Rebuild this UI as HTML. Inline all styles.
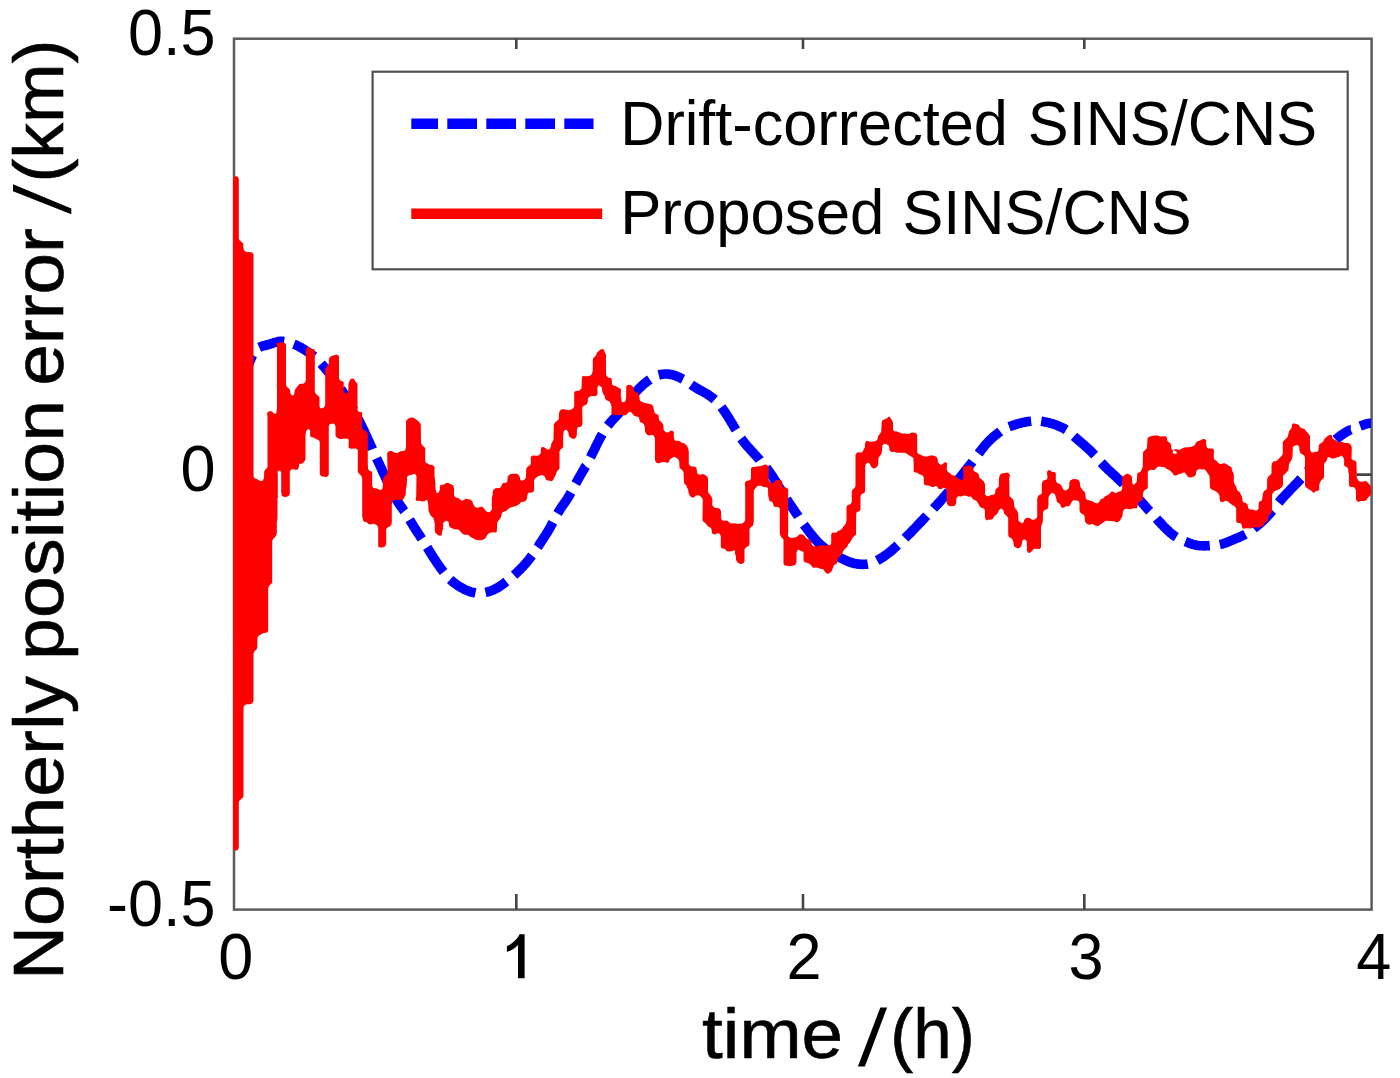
<!DOCTYPE html>
<html><head><meta charset="utf-8"><title>Northerly position error</title>
<style>
html,body{margin:0;padding:0;background:#fff;}
body{width:1400px;height:1078px;overflow:hidden;}
svg{display:block;filter:blur(0.45px);}
text{font-family:"Liberation Sans",sans-serif;fill:#000;}
</style></head><body>
<svg width="1400" height="1078" viewBox="0 0 1400 1078">
<rect width="1400" height="1078" fill="#fff"/>
<!-- axes frame -->
<rect x="234.0" y="38.7" width="1137.6" height="870.9" fill="none" stroke="#5c5c5c" stroke-width="2.5"/>
<path d="M516.3 909.6V894.0M516.3 38.7V49.1M803.0 909.6V894.0M803.0 38.7V49.1M1084.3 909.6V894.0M1084.3 38.7V49.1M234.0 474.6H249.0M1371.6 474.6H1356.5" fill="none" stroke="#444444" stroke-width="2.6"/>
<!-- blue dashed: Drift-corrected SINS/CNS -->
<path d="M247.0 370.0L247.6 368.0L248.2 366.1L248.8 364.2L249.5 362.4L250.2 360.5L251.0 358.7L251.8 356.8L252.7 355.1L252.8 355.0M259.2 347.4L261.0 346.6L262.9 345.9L264.8 345.5L266.8 345.0L268.7 344.5L270.6 343.9L272.5 343.3L274.4 342.6L276.3 342.1L278.3 341.6L280.2 341.3L282.2 341.3L284.1 341.6M293.8 344.2L295.6 344.9L297.4 345.8L299.2 346.7L301.0 347.6L302.7 348.7L304.4 349.7L306.1 350.8L307.8 351.8L309.4 352.9L311.1 354.1L312.7 355.3L314.2 356.5M321.2 363.6L322.5 365.1L323.8 366.7L325.1 368.2L326.3 369.7L327.6 371.3L328.9 372.9L330.1 374.4L331.3 376.0L332.6 377.6L333.8 379.2L335.0 380.8L335.0 380.8M340.9 389.0L342.0 390.6L343.1 392.3L344.2 394.0L345.3 395.6L346.4 397.3L347.4 399.0L348.4 400.7L349.5 402.5L350.5 404.2L351.4 405.9L352.4 407.7L353.4 409.4L353.7 410.0M358.2 418.9L359.1 420.7L360.0 422.5L360.9 424.3L361.8 426.1L362.6 427.9L363.5 429.7L364.4 431.5L365.2 433.3L366.1 435.2L366.9 437.0L367.7 438.8L368.6 440.6L369.4 442.4L370.2 444.3L371.0 446.1L371.9 447.9L372.4 449.2M376.6 458.3L377.4 460.1L378.3 461.9L379.1 463.7L380.0 465.5L380.8 467.3L381.7 469.2L382.5 471.0L383.3 472.8L384.2 474.6L385.0 476.4L385.8 478.3L386.6 480.1L387.4 481.9L387.9 483.1M392.2 492.1L393.1 493.9L394.1 495.7L395.1 497.4L396.1 499.1L397.2 500.8L398.2 502.5L399.4 504.1L400.5 505.8L401.7 507.4L402.8 509.0L403.9 510.7L404.3 511.2M409.6 519.7L410.6 521.4L411.7 523.1L412.7 524.8L413.7 526.5L414.8 528.2L415.9 529.9L417.0 531.6L418.1 533.3L419.2 534.9L420.3 536.6L421.4 538.3L421.8 538.9M427.1 547.4L428.2 549.1L429.2 550.8L430.3 552.5L431.3 554.2L432.4 555.9L433.5 557.6L434.6 559.2L435.7 560.9L436.8 562.6L437.9 564.2L439.1 565.8L440.2 567.5L441.4 569.1L442.6 570.7L443.6 572.0M450.2 579.4L451.7 580.8L453.2 582.1L454.8 583.3L456.4 584.5L458.0 585.7L459.7 586.7L461.5 587.7L463.2 588.7L465.0 589.6L466.8 590.4L468.7 591.2L470.6 591.8L472.5 592.3L474.5 592.7L475.5 592.9M485.5 592.4L487.4 592.0L489.3 591.4L491.2 590.7L493.1 590.0L494.9 589.2L496.6 588.2L498.4 587.2L500.1 586.1L501.7 585.0L503.3 583.8L504.9 582.6L506.3 581.5M514.0 575.1L515.5 573.8L517.0 572.4L518.4 571.1L519.9 569.7L521.3 568.2L522.7 566.8L524.0 565.3L525.4 563.8L526.7 562.3L527.9 560.8L529.2 559.2L530.4 557.6L531.6 556.0L532.0 555.5M537.6 547.2L538.7 545.6L539.8 543.9L540.9 542.2L542.0 540.6L543.1 538.9L544.2 537.2L545.3 535.5L546.3 533.9L547.4 532.2L548.4 530.4L549.4 528.7L550.4 527.0L551.3 525.2L552.3 523.4L552.9 522.3M557.6 513.5L558.6 511.8L559.7 510.1L560.7 508.4L561.8 506.8L563.0 505.1L564.1 503.5L565.3 501.8L566.4 500.2L567.5 498.5L568.5 496.8L569.6 495.1L570.5 493.3L571.0 492.4M575.7 483.6L576.7 481.9L577.6 480.1L578.6 478.4L579.6 476.6L580.6 474.9L581.6 473.2L582.6 471.4L583.6 469.7L584.6 468.0L585.6 466.3L585.8 466.1M590.5 457.3L591.4 455.5L592.3 453.7L593.2 451.9L594.1 450.1L595.0 448.3L595.8 446.5L596.7 444.7L597.6 442.9L598.5 441.2L599.4 439.4L600.3 437.6L601.3 435.8L602.3 434.1L602.3 434.1M607.8 425.7L609.0 424.2L610.3 422.6L611.6 421.1L613.0 419.7L614.3 418.2L615.7 416.7L617.0 415.3L618.4 413.8L619.7 412.2L620.9 410.7L622.2 409.1L623.4 407.5L624.0 406.7M630.0 398.8L631.3 397.2L632.5 395.7L633.8 394.1L635.2 392.6L636.5 391.2L637.9 389.7L639.3 388.3L640.8 386.9L642.2 385.6L643.7 384.2L645.3 383.0L646.8 381.7L648.4 380.5L649.8 379.5M658.7 375.0L660.7 374.5L662.7 374.2L664.6 374.0L666.6 374.0L668.6 374.1L670.6 374.4L672.6 374.8L674.5 375.4L676.4 376.1L678.2 376.9L680.0 377.7L681.8 378.6L683.0 379.2M691.3 384.7L693.0 385.9L694.6 386.9L696.3 388.0L698.1 389.0L699.8 390.0L701.6 390.9L703.3 391.9L705.0 392.9L706.8 393.9L708.5 395.0L710.1 396.1L711.8 397.3L713.3 398.5L714.7 399.7M721.4 407.1L722.6 408.7L723.7 410.3L724.9 411.9L726.0 413.6L727.0 415.3L728.1 417.0L729.2 418.7L730.2 420.4L731.2 422.1L732.3 423.8L733.3 425.5L734.3 427.3L735.3 429.0L735.9 430.0M741.2 438.5L742.4 440.1L743.6 441.7L744.8 443.3L746.1 444.9L747.4 446.4L748.7 447.8L750.1 449.3L751.4 450.8L752.8 452.3L754.1 453.7L755.5 455.2L756.8 456.7L758.2 458.2L759.5 459.7L759.7 460.0M766.2 467.6L767.4 469.2L768.6 470.8L769.8 472.4L770.9 474.0L772.1 475.7L773.1 477.4L774.2 479.1L775.3 480.8L776.3 482.5L777.3 484.2L778.4 485.9L779.4 487.6L780.4 489.3L781.3 490.8M786.7 499.2L787.8 500.9L788.9 502.6L790.0 504.2L791.2 505.9L792.3 507.6L793.4 509.2L794.5 510.9L795.6 512.5L796.8 514.2L797.9 515.8L798.3 516.5M803.9 524.7L805.1 526.3L806.3 527.9L807.5 529.6L808.7 531.2L809.9 532.7L811.1 534.3L812.4 535.9L813.6 537.4L814.9 538.9L816.3 540.4L817.6 541.9L819.0 543.3L820.5 544.7L822.0 546.0L823.6 547.3L825.1 548.5L826.8 549.7L827.8 550.4M836.3 555.6L838.1 556.6L839.9 557.5L841.6 558.4L843.4 559.3L845.2 560.2L847.1 561.0L848.9 561.7L850.8 562.4L852.7 563.0L854.6 563.5L856.6 563.9L858.6 564.1L860.6 564.3L862.6 564.4L864.6 564.3L866.6 564.2L867.8 564.0M877.1 560.5L878.9 559.5L880.6 558.5L882.3 557.5L884.0 556.4L885.6 555.2L887.2 554.0L888.8 552.8L890.4 551.6L891.9 550.3L893.4 549.0L894.9 547.6L896.4 546.3L897.7 545.1M904.9 538.2L906.3 536.8L907.7 535.4L909.2 534.0L910.6 532.6L912.0 531.1L913.4 529.7L914.8 528.3L916.1 526.8L917.5 525.4L918.9 523.9L920.3 522.5L921.6 521.0L923.0 519.6L924.4 518.1L925.8 516.7L926.7 515.7M933.5 508.5L934.9 507.0L936.3 505.6L937.6 504.1L939.0 502.6L940.4 501.2L941.7 499.7L943.0 498.2L944.3 496.7L945.6 495.2L946.9 493.7L948.2 492.1L948.8 491.4M955.1 483.6L956.4 482.0L957.6 480.5L958.9 478.9L960.1 477.3L961.4 475.8L962.6 474.2L963.8 472.7L965.1 471.1L966.3 469.5L967.6 467.9L968.8 466.4L970.0 464.8L971.3 463.2L972.5 461.6L972.5 461.6M978.6 453.6L979.8 452.0L981.0 450.4L982.2 448.8L983.5 447.3L984.7 445.7L986.0 444.2L987.4 442.7L988.7 441.3L990.2 439.8L991.6 438.5L993.1 437.1L994.6 435.8L996.2 434.6L997.8 433.4L999.4 432.2L1000.3 431.5M1009.1 426.8L1011.0 426.1L1012.9 425.4L1014.8 424.8L1016.7 424.2L1018.6 423.6L1020.5 423.1L1022.5 422.6L1024.4 422.2L1026.4 421.8L1028.4 421.5L1030.3 421.3L1031.2 421.2M1041.2 421.3L1043.2 421.6L1045.1 422.0L1047.1 422.4L1049.0 422.8L1051.0 423.4L1052.9 423.9L1054.8 424.6L1056.7 425.3L1058.5 426.0L1060.4 426.8L1062.2 427.6L1064.0 428.5L1065.7 429.6L1066.2 429.9M1073.9 436.3L1075.4 437.6L1076.9 438.9L1078.4 440.2L1080.0 441.5L1081.5 442.8L1083.0 444.1L1084.5 445.4L1086.0 446.8L1087.5 448.1L1089.0 449.5L1090.4 450.8L1091.9 452.2L1093.3 453.7L1094.6 455.1L1094.7 455.2M1101.3 462.6L1102.7 464.1L1104.1 465.6L1105.5 467.0L1106.9 468.4L1108.3 469.8L1109.8 471.1L1111.3 472.5L1112.7 473.9L1114.2 475.2L1115.7 476.6L1117.1 477.9L1118.6 479.3L1120.0 480.7L1121.5 482.1L1122.9 483.4L1123.4 483.9M1130.6 490.9L1132.0 492.3L1133.4 493.7L1134.8 495.1L1136.2 496.5L1137.6 498.0L1139.0 499.4L1140.4 500.8L1141.8 502.3L1143.1 503.8L1144.5 505.3L1145.8 506.8L1147.1 508.3L1148.4 509.8L1149.8 511.2M1156.5 518.6L1157.8 520.1L1159.2 521.6L1160.6 523.0L1161.9 524.5L1163.3 525.9L1164.7 527.4L1166.1 528.8L1167.5 530.2L1169.0 531.5L1170.5 532.9L1172.0 534.1L1173.6 535.3L1175.3 536.5L1176.3 537.1M1185.3 541.5L1187.1 542.2L1189.0 543.0L1190.8 543.7L1192.7 544.3L1194.7 544.8L1196.6 545.2L1198.6 545.5L1200.6 545.7L1202.6 545.8L1204.6 545.9L1206.6 545.8L1208.6 545.7L1209.8 545.6M1219.8 544.5L1221.7 544.1L1223.6 543.5L1225.5 542.9L1227.4 542.2L1229.2 541.4L1231.1 540.6L1232.9 539.8L1234.8 539.0L1236.6 538.3L1238.5 537.5L1240.3 536.7L1242.1 535.9L1243.9 535.0L1245.4 534.2M1253.7 528.7L1255.2 527.4L1256.8 526.2L1258.3 524.9L1259.8 523.6L1261.3 522.3L1262.8 520.9L1264.3 519.5L1265.7 518.1L1267.1 516.7L1268.4 515.2L1269.8 513.7L1271.0 512.2L1272.3 510.6L1272.5 510.4M1278.7 502.6L1280.0 501.0L1281.3 499.5L1282.6 498.0L1284.0 496.5L1285.3 495.1L1286.7 493.6L1288.1 492.2L1289.5 490.7L1290.8 489.3L1292.2 487.8L1293.6 486.4L1295.0 484.9L1296.4 483.5L1297.8 482.1L1299.1 480.6L1300.5 479.1L1301.0 478.6M1307.6 471.1L1308.9 469.6L1310.2 468.1L1311.4 466.6L1312.7 465.0L1314.0 463.5L1315.3 461.9L1316.5 460.4L1317.8 458.8L1319.1 457.3L1320.4 455.8L1321.7 454.3L1323.0 452.7L1324.3 451.2L1325.6 449.7L1327.0 448.2L1328.3 446.8L1328.5 446.6M1335.7 439.6L1337.2 438.3L1338.8 437.1L1340.4 435.9L1342.0 434.7L1343.7 433.6L1345.3 432.5L1347.1 431.5L1348.8 430.6L1350.6 429.7L1350.8 429.7M1360.1 426.1L1362.0 425.4L1363.9 424.8L1365.8 424.1L1367.7 423.6L1369.7 423.2L1371.0 423.2" fill="none" stroke="#0000ff" stroke-width="9.6" stroke-linejoin="round"/>
<!-- red solid: Proposed SINS/CNS -->
<path d="M233.5 848.8L234.2 850.0L235.2 850.5L236.8 850.5L237.8 850.0L238.8 847.8L238.8 802.5L239.5 800.5L242.8 797.8L243.5 795.8L243.5 707.8L244.2 705.8L245.0 705.0L247.0 704.2L250.2 704.2L252.5 703.2L253.5 700.8L253.5 654.2L253.8 652.8L254.5 651.2L256.5 649.5L257.2 648.2L257.5 637.2L259.0 635.5L263.5 633.0L267.2 632.5L268.2 630.8L268.2 588.8L268.5 587.2L269.2 585.8L272.0 583.0L272.2 582.0L272.2 541.0L273.2 538.8L274.8 537.5L275.8 536.0L276.8 533.5L276.8 522.2L277.5 518.5L277.5 498.5L278.0 496.2L277.8 495.5L277.8 473.2L277.5 472.2L277.8 471.2L278.8 470.5L280.2 471.0L281.2 472.5L281.2 492.0L281.8 495.8L283.5 496.8L285.5 497.0L287.5 496.5L289.2 495.5L289.8 494.0L289.8 472.2L290.0 471.0L291.0 469.8L292.0 469.2L294.0 469.2L295.0 469.8L297.0 469.8L297.8 469.2L298.8 467.2L299.2 464.2L299.8 463.8L301.5 463.8L303.2 463.0L305.2 460.0L305.5 459.0L305.5 435.2L306.2 431.2L307.0 430.0L308.0 429.2L309.0 429.2L310.0 430.2L310.2 431.0L310.0 435.0L310.5 436.5L311.0 437.0L313.2 437.5L316.5 439.2L318.2 439.8L319.2 440.8L319.8 442.0L319.8 474.2L320.8 475.8L322.2 476.5L326.5 477.0L327.2 476.8L328.2 475.8L328.8 474.5L328.8 426.8L329.2 425.0L330.2 424.0L333.5 423.5L335.0 424.8L335.5 426.5L335.5 435.2L336.0 436.5L337.2 437.8L339.8 439.0L341.0 439.2L344.0 438.5L347.8 438.8L348.8 440.0L348.5 447.0L349.0 448.0L350.8 448.8L356.0 448.5L357.5 449.8L357.8 450.2L357.8 471.5L358.5 473.0L361.2 475.8L362.2 478.5L362.2 516.5L363.0 519.0L363.0 520.5L363.8 521.5L366.8 522.2L368.5 524.0L369.5 524.5L374.0 523.8L375.8 524.5L377.5 526.0L378.2 528.5L378.2 546.2L379.0 547.2L379.5 547.5L384.0 547.2L385.5 545.8L386.2 543.5L386.2 529.5L386.5 528.8L388.2 527.0L390.0 526.2L391.0 525.2L391.5 524.0L391.8 522.2L391.8 504.8L392.2 502.0L393.0 501.0L395.0 500.0L399.2 500.0L399.5 499.8L401.5 500.0L402.8 499.8L403.5 499.0L405.8 494.5L405.8 490.0L406.8 484.8L407.0 477.0L408.8 475.2L411.0 475.0L413.8 474.0L415.2 474.2L416.0 475.0L416.5 476.5L416.2 496.5L415.8 498.5L415.8 500.2L417.0 501.0L419.8 500.8L421.8 501.5L424.5 501.2L426.0 500.0L426.8 500.0L427.5 500.8L428.2 504.0L428.5 510.5L430.2 515.0L433.5 518.2L434.8 523.5L434.8 530.8L435.2 532.5L436.8 534.2L439.5 535.8L441.0 535.8L441.8 535.0L441.8 532.8L443.0 529.0L443.2 523.2L444.5 521.5L447.0 520.8L448.2 521.8L448.8 522.8L449.0 525.8L450.2 527.5L454.5 529.2L458.0 529.5L459.0 530.0L463.0 534.2L464.8 534.8L468.2 534.8L470.5 537.0L473.2 538.2L475.0 539.5L478.8 540.2L481.5 540.2L484.5 539.0L486.0 537.5L487.0 535.2L488.8 533.2L492.5 532.2L495.5 532.5L496.8 531.8L497.2 523.0L498.0 521.2L501.0 517.2L501.8 513.2L503.0 512.0L506.0 511.0L508.8 508.5L511.2 507.2L515.2 506.2L519.0 504.5L521.2 502.0L524.5 501.5L526.0 500.5L527.2 498.2L527.2 496.0L528.0 493.2L528.8 492.5L530.2 492.8L532.2 492.5L533.5 491.5L534.2 489.5L534.0 480.8L534.8 479.0L536.0 477.8L538.5 476.0L541.2 475.2L542.8 475.2L543.5 475.5L544.8 476.8L546.0 479.8L547.0 480.5L549.0 480.5L551.5 481.2L553.0 480.2L555.8 474.8L556.8 471.5L559.0 469.2L559.5 468.2L559.5 451.8L560.2 449.8L562.8 447.8L563.2 446.2L563.2 435.0L563.8 431.2L564.8 430.0L566.5 429.8L568.2 432.0L569.0 436.2L570.0 437.2L572.5 438.8L574.5 438.8L576.0 437.5L576.8 435.2L577.0 428.5L578.0 427.2L580.8 426.8L582.0 425.5L582.5 424.0L582.2 407.5L583.5 405.8L585.2 405.2L587.0 404.0L587.8 401.5L587.8 398.8L589.0 397.0L590.5 396.2L592.0 396.0L595.8 396.0L597.0 395.2L597.5 394.0L597.5 390.2L597.2 390.0L597.5 387.5L598.0 385.8L599.0 385.2L601.8 387.5L602.2 391.0L603.0 393.2L604.8 396.5L605.2 398.8L606.5 400.2L609.2 401.2L610.5 403.2L611.5 406.5L611.5 412.0L611.2 412.2L611.5 413.5L612.2 414.5L616.2 415.2L619.0 415.2L619.2 415.0L626.0 415.2L628.8 412.0L630.0 411.8L631.5 412.5L634.2 415.8L635.2 416.2L638.0 416.8L639.0 417.8L639.8 421.5L640.5 422.2L642.5 423.0L643.8 424.2L644.8 427.0L645.0 431.5L646.2 433.8L648.0 435.2L649.5 435.5L651.0 435.0L652.8 435.0L654.2 436.2L655.0 439.2L655.0 459.5L655.5 461.5L656.2 462.5L657.5 463.2L658.8 463.2L662.5 462.0L665.0 462.0L666.8 462.8L668.0 462.8L668.8 462.0L669.8 459.8L670.8 458.8L674.0 456.8L676.2 457.8L678.5 459.5L679.2 461.5L679.5 467.2L680.5 468.8L682.8 470.8L683.5 472.2L684.0 482.8L684.5 483.8L686.5 485.8L686.8 487.2L688.2 489.8L688.5 492.8L689.5 495.2L690.8 496.8L692.0 497.5L694.0 497.5L696.0 495.5L698.5 495.2L699.8 495.8L701.8 497.8L702.8 499.5L702.5 520.2L703.0 521.2L705.8 523.5L708.0 526.5L709.8 527.2L711.2 528.5L711.8 530.5L711.8 532.2L712.5 533.8L714.5 534.5L717.8 533.2L719.0 533.2L720.0 534.2L720.8 536.2L720.8 546.8L721.8 548.2L724.8 549.0L726.8 551.0L727.8 551.5L732.0 551.2L734.2 550.2L735.0 550.8L735.0 553.8L736.0 556.5L736.0 559.5L736.8 561.5L738.0 562.8L740.2 564.0L741.8 564.0L744.0 562.5L744.5 560.8L744.5 549.2L745.8 547.5L748.8 545.8L749.5 544.5L749.5 529.8L750.0 528.0L753.0 525.5L753.8 521.2L753.8 491.0L754.8 489.0L757.2 486.2L758.5 485.8L761.0 485.8L763.5 487.0L766.8 487.2L768.0 488.2L768.2 495.8L769.5 501.0L772.0 502.0L772.8 502.8L773.8 506.2L774.2 506.8L778.2 507.0L779.5 508.2L779.8 509.0L779.8 533.0L780.5 535.8L781.2 537.0L783.2 539.0L783.5 540.5L783.5 563.5L784.0 564.8L785.0 565.5L789.5 566.2L794.2 565.5L795.8 564.2L796.5 561.8L796.5 552.8L797.5 550.2L798.0 549.8L798.8 549.8L800.5 550.8L802.2 551.2L803.5 552.5L803.8 553.8L803.5 554.0L803.5 560.2L803.8 561.2L804.8 562.2L809.0 563.5L810.8 565.0L812.8 567.5L813.5 567.8L816.5 567.5L818.0 567.8L820.0 568.8L822.8 569.0L824.0 570.2L825.2 572.2L827.0 573.8L829.0 573.5L831.8 571.0L833.8 565.5L834.8 564.5L836.0 564.2L837.0 563.0L838.0 558.5L842.0 554.0L844.0 549.8L847.5 546.5L848.2 544.2L850.0 542.5L852.8 537.5L856.0 534.5L856.2 533.8L856.0 531.8L856.2 513.5L857.0 512.0L859.5 511.2L860.2 510.2L860.5 509.0L860.5 496.2L861.2 494.8L862.2 493.8L863.8 493.2L864.8 492.2L865.2 490.0L865.2 466.2L865.5 464.8L867.2 462.8L868.8 462.8L870.0 464.2L870.8 466.2L872.5 468.0L873.2 468.2L875.2 468.2L877.5 466.2L878.2 464.8L878.5 457.8L881.2 454.2L882.0 451.2L882.2 446.0L882.8 445.0L884.2 443.8L886.8 444.2L888.8 445.8L889.2 447.2L889.5 450.2L891.2 452.0L894.2 451.8L897.0 452.8L904.0 452.8L906.0 453.2L913.0 457.8L913.5 458.8L913.8 472.2L916.8 472.5L918.5 473.8L922.5 475.5L923.2 476.2L923.8 477.8L923.8 482.8L924.2 484.2L925.2 485.2L928.5 485.5L932.0 487.0L933.5 487.0L935.2 486.2L936.5 486.2L938.0 487.5L938.2 488.5L939.2 489.0L941.5 489.0L943.5 487.8L945.5 488.0L946.5 489.2L946.8 503.2L947.5 504.8L948.5 505.5L950.2 506.2L954.5 506.0L956.0 503.8L956.5 498.0L958.2 496.2L961.0 496.5L964.0 495.5L965.2 495.5L968.8 496.8L971.0 496.5L973.2 499.5L976.2 500.8L977.0 501.5L979.8 506.5L981.0 507.8L983.5 508.2L984.2 509.0L984.8 510.0L985.0 517.8L986.2 520.2L987.2 520.2L988.2 519.8L992.0 519.5L993.2 518.2L994.2 516.5L997.5 513.5L998.8 510.5L1000.5 508.8L1002.0 508.8L1003.5 510.5L1004.2 513.8L1007.5 516.8L1008.2 518.5L1008.2 534.5L1008.5 536.0L1009.2 537.2L1011.0 538.0L1012.5 539.8L1013.2 541.5L1014.0 546.0L1014.5 546.8L1017.5 548.2L1019.5 548.0L1021.2 546.2L1022.5 540.5L1023.5 539.5L1025.0 539.5L1026.2 540.5L1026.8 542.0L1027.0 550.5L1027.5 552.0L1028.2 552.8L1029.8 552.8L1030.8 552.2L1033.8 549.0L1034.5 548.8L1039.8 549.0L1041.0 547.5L1041.0 527.0L1042.8 521.5L1043.0 512.8L1043.5 511.2L1044.8 510.0L1047.0 509.2L1047.8 508.2L1048.5 505.5L1048.5 497.8L1049.2 495.8L1051.2 493.2L1052.8 492.8L1055.0 494.5L1056.5 499.5L1056.8 501.8L1060.0 504.0L1061.0 507.0L1062.8 508.0L1066.2 506.2L1069.0 506.2L1070.2 505.0L1070.8 503.5L1072.2 501.2L1073.8 500.0L1075.2 500.5L1078.2 500.8L1079.2 502.0L1079.5 503.5L1079.5 509.5L1080.0 512.0L1081.2 513.5L1083.0 514.2L1084.5 515.8L1085.0 521.5L1086.0 523.0L1088.0 524.5L1090.2 524.8L1091.0 524.2L1092.5 524.0L1096.5 526.0L1098.2 526.0L1105.0 521.2L1106.2 520.8L1114.2 521.2L1116.2 522.2L1117.2 522.2L1119.0 521.5L1120.2 520.2L1122.5 515.8L1123.0 511.0L1124.8 509.0L1127.5 508.8L1128.8 509.2L1130.2 509.2L1133.8 508.2L1136.5 508.2L1137.2 507.5L1138.0 503.8L1138.5 502.8L1139.2 502.0L1141.5 501.0L1142.8 499.2L1143.0 493.5L1144.0 490.8L1145.0 489.8L1146.8 489.0L1147.8 487.8L1147.8 472.2L1148.2 471.2L1149.0 470.5L1150.8 469.8L1154.5 470.0L1158.0 466.5L1164.5 467.2L1166.8 469.0L1170.0 470.5L1173.0 473.5L1173.8 475.2L1174.8 475.5L1177.0 475.2L1178.8 474.0L1180.8 473.8L1184.2 472.2L1186.5 474.5L1187.5 476.5L1189.5 477.5L1191.8 477.2L1194.8 476.0L1195.8 474.8L1196.2 471.8L1197.0 470.2L1198.5 469.2L1201.2 469.2L1201.5 469.5L1204.2 469.2L1205.2 469.8L1209.5 476.0L1210.0 488.0L1211.0 489.0L1216.5 491.8L1218.5 493.8L1219.5 495.8L1219.8 500.0L1220.2 501.2L1221.0 502.0L1222.8 502.0L1225.5 500.8L1227.2 501.0L1231.5 504.5L1234.2 506.0L1235.5 507.2L1236.2 509.0L1236.2 521.8L1237.2 522.8L1239.8 523.0L1240.8 523.5L1241.5 524.2L1242.2 527.8L1243.2 528.8L1246.2 528.2L1251.2 528.5L1254.2 527.2L1259.0 527.5L1262.5 526.0L1263.8 524.8L1264.5 523.2L1267.8 520.5L1268.5 515.8L1271.0 513.5L1271.5 512.5L1272.0 509.5L1272.0 495.2L1272.2 494.0L1274.5 491.2L1279.8 489.0L1282.2 486.5L1283.0 484.8L1283.0 476.2L1283.2 475.5L1285.5 473.5L1288.5 470.0L1289.0 464.0L1289.5 462.8L1291.0 461.0L1292.5 457.2L1292.8 447.8L1293.2 446.8L1294.5 445.8L1297.5 445.0L1298.8 446.0L1299.2 447.0L1299.5 450.8L1300.2 452.5L1301.2 453.8L1303.5 455.0L1304.5 456.2L1305.0 458.2L1305.0 485.2L1305.5 486.8L1306.5 487.8L1311.2 490.8L1313.5 492.8L1314.5 492.5L1315.8 491.2L1318.2 490.8L1319.2 489.5L1319.2 485.2L1319.8 483.0L1321.2 480.2L1323.5 478.2L1324.0 477.0L1324.0 464.2L1324.5 463.0L1326.2 461.5L1327.5 457.8L1328.8 457.0L1331.2 458.2L1334.0 458.5L1336.5 457.5L1339.0 457.0L1340.5 455.8L1341.5 455.8L1342.5 456.2L1344.0 459.0L1344.2 460.5L1344.0 464.2L1344.5 466.0L1347.0 467.2L1348.2 468.8L1348.5 472.8L1349.0 474.2L1349.0 484.8L1349.2 485.8L1350.5 487.0L1354.0 487.2L1355.5 489.2L1356.0 491.0L1356.0 499.2L1356.8 501.0L1357.8 501.8L1359.0 501.8L1361.2 501.0L1364.5 501.0L1366.2 500.2L1367.0 499.5L1367.8 497.8L1371.0 495.0L1371.2 494.2L1371.0 487.2L1369.8 484.8L1366.5 481.2L1365.2 481.0L1363.8 481.5L1360.0 481.8L1358.5 480.8L1356.8 477.8L1356.5 462.2L1355.5 461.0L1352.5 460.0L1351.5 458.5L1351.8 447.5L1351.0 445.2L1349.5 443.5L1348.2 443.0L1345.0 443.0L1342.2 442.0L1338.0 442.0L1336.5 441.2L1335.2 440.0L1332.8 438.8L1332.2 436.2L1331.5 435.0L1329.8 435.0L1327.5 436.0L1324.2 439.2L1323.2 441.5L1319.2 444.5L1318.8 446.0L1318.5 450.8L1317.5 451.8L1315.0 451.8L1313.2 452.5L1311.8 452.5L1310.8 451.5L1310.0 449.2L1310.0 436.5L1309.2 434.5L1306.8 432.0L1304.5 429.0L1301.0 428.0L1299.8 426.8L1299.2 425.5L1298.5 424.8L1294.5 423.5L1293.2 423.5L1292.5 424.0L1292.0 425.0L1291.8 427.2L1291.0 428.8L1289.0 431.2L1287.8 436.8L1282.8 441.8L1282.8 453.8L1282.2 455.2L1276.5 461.0L1273.2 461.5L1272.2 463.0L1271.5 465.8L1271.5 473.0L1271.0 474.2L1268.2 476.8L1267.2 479.2L1267.0 488.0L1266.2 489.8L1264.2 491.0L1263.0 493.0L1262.2 499.0L1261.8 500.2L1261.0 501.0L1259.2 501.8L1258.8 502.5L1258.5 508.8L1257.2 510.2L1255.5 510.5L1252.8 509.5L1250.5 509.8L1248.8 508.8L1248.0 507.2L1247.5 504.2L1245.8 503.0L1243.8 502.5L1242.8 501.5L1241.8 496.0L1240.5 494.2L1240.0 492.5L1239.0 491.5L1238.2 491.2L1237.0 489.8L1236.5 487.2L1234.8 484.5L1233.8 482.0L1233.8 474.2L1232.2 470.5L1231.5 467.5L1230.5 466.5L1229.0 466.0L1225.5 463.5L1223.8 463.2L1221.0 464.0L1219.2 463.8L1217.8 462.5L1216.8 461.0L1214.2 459.5L1213.8 458.5L1213.8 451.8L1214.0 451.5L1213.8 449.8L1212.8 448.8L1212.0 448.5L1208.2 448.5L1206.8 447.2L1206.0 443.5L1206.2 443.2L1206.0 443.0L1206.2 440.5L1205.8 439.8L1204.2 439.0L1203.0 439.0L1199.5 440.8L1198.0 441.0L1196.0 442.5L1195.2 444.5L1194.0 445.8L1191.0 447.0L1184.2 447.5L1179.0 450.0L1177.0 449.2L1174.8 449.2L1174.0 449.8L1173.8 450.5L1175.8 451.2L1176.8 452.2L1177.0 453.0L1176.0 453.8L1173.8 453.8L1172.5 452.8L1173.2 450.8L1171.5 449.0L1171.0 444.5L1170.0 443.0L1167.8 441.5L1167.2 440.2L1167.0 438.0L1166.0 436.5L1165.2 436.2L1161.2 436.5L1159.5 436.2L1157.8 435.5L1154.0 435.5L1150.0 436.5L1148.5 437.2L1147.5 438.5L1147.0 447.5L1146.5 448.8L1143.5 451.5L1143.0 452.5L1142.8 466.8L1141.0 471.0L1139.8 472.2L1137.8 473.0L1137.2 473.8L1136.8 481.8L1134.0 484.8L1133.5 484.8L1132.8 484.0L1132.2 482.5L1132.0 477.2L1131.2 475.8L1129.0 474.2L1127.5 473.8L1126.2 474.0L1123.2 476.0L1122.5 477.0L1122.2 478.0L1122.2 488.8L1121.2 491.0L1118.2 491.8L1116.0 493.0L1114.8 492.8L1112.5 491.5L1111.5 491.5L1108.8 494.5L1104.8 496.5L1103.2 498.5L1101.0 499.0L1098.8 502.5L1097.5 503.2L1095.8 503.2L1091.8 501.0L1087.2 499.8L1085.8 498.5L1085.2 492.8L1082.5 490.0L1080.5 487.0L1080.0 485.5L1079.8 482.2L1078.5 480.2L1077.2 479.2L1073.2 479.0L1070.2 480.5L1069.5 482.0L1069.0 488.0L1066.5 490.2L1064.8 490.5L1063.2 489.2L1061.2 485.2L1059.5 483.8L1057.8 483.2L1056.5 482.2L1055.8 479.8L1055.8 473.2L1054.8 472.0L1052.2 472.0L1050.0 470.2L1048.2 470.2L1047.5 470.8L1047.0 472.8L1047.5 477.2L1047.2 478.8L1046.2 479.8L1043.5 480.5L1042.2 482.5L1041.8 485.0L1041.8 491.8L1042.0 492.0L1041.8 493.2L1041.0 494.2L1039.2 495.0L1038.0 496.2L1037.2 498.8L1037.2 516.0L1036.8 518.0L1034.8 519.5L1032.2 519.8L1029.5 518.0L1027.0 517.8L1025.5 518.5L1024.5 519.5L1023.2 522.8L1022.8 523.2L1022.0 523.2L1019.8 522.0L1018.5 520.5L1018.2 513.8L1017.0 510.5L1015.0 508.0L1014.2 506.2L1014.0 502.0L1013.0 499.2L1009.8 496.5L1009.5 495.8L1009.2 477.8L1009.8 476.2L1009.8 474.8L1009.0 473.5L1007.8 472.8L1005.5 472.8L1001.0 473.8L1000.0 475.0L999.0 478.0L998.8 486.5L996.0 489.0L995.5 490.0L995.2 492.5L994.8 493.8L993.2 494.8L991.2 495.0L988.0 496.2L986.5 496.0L985.0 494.2L985.0 491.0L985.2 490.8L985.0 484.0L983.5 481.0L979.5 477.8L978.5 474.0L977.2 472.8L973.8 471.0L972.8 467.5L971.5 466.0L970.5 465.5L969.0 465.5L966.8 466.2L964.0 466.0L963.2 466.8L963.0 469.0L963.2 469.2L963.5 478.2L962.5 479.5L961.5 480.0L957.0 477.8L955.0 475.8L951.8 475.0L950.2 473.2L948.0 472.0L947.0 470.5L946.8 468.5L947.0 463.0L946.5 462.5L945.8 462.2L944.5 462.5L941.0 465.2L938.2 462.8L937.8 461.2L937.5 458.2L936.0 456.5L933.0 455.5L930.0 455.5L927.2 456.5L924.5 456.5L918.2 453.8L917.2 452.2L917.2 435.8L916.8 434.0L915.2 433.0L913.0 432.5L911.0 432.8L908.8 434.0L906.5 434.0L905.5 433.5L901.8 433.5L897.2 431.5L894.2 431.2L893.0 429.8L893.0 423.2L892.5 421.2L890.0 417.0L888.5 416.8L886.5 418.5L882.8 420.0L881.8 421.5L881.2 431.5L880.5 433.0L878.0 436.2L877.8 438.5L877.2 439.8L875.8 441.0L871.8 441.8L869.8 441.8L868.0 441.0L866.0 441.2L865.2 442.8L864.8 447.5L862.5 451.8L861.2 452.8L860.0 452.2L857.2 452.5L855.8 454.0L855.5 454.8L855.5 485.2L855.2 487.0L854.0 488.5L852.5 489.5L851.8 491.5L851.8 501.8L851.5 502.8L850.2 504.2L847.5 505.2L846.8 506.2L846.5 507.2L846.5 521.2L845.2 524.5L843.0 527.0L842.2 528.5L840.5 530.0L838.0 531.0L836.0 532.8L832.8 532.5L831.8 533.2L831.2 534.5L831.2 542.8L830.8 544.2L830.0 545.0L826.8 545.2L825.5 545.8L823.5 545.8L822.5 545.2L820.5 545.0L817.8 546.2L814.2 546.2L813.0 545.8L811.8 544.5L811.0 540.5L810.0 539.8L807.2 539.0L805.0 536.8L804.2 535.5L802.8 534.5L800.2 534.2L799.0 534.8L797.0 536.8L796.0 537.2L792.2 538.0L790.2 537.8L788.2 536.2L788.0 535.8L788.0 533.2L788.2 533.0L788.2 489.5L787.0 488.0L785.8 487.5L784.0 487.5L782.8 486.8L782.0 481.2L781.0 480.2L776.2 480.0L773.0 483.2L771.8 483.2L770.8 482.8L769.2 481.2L768.5 479.2L768.8 467.5L768.0 466.0L766.5 464.8L765.0 464.5L761.0 466.0L751.8 467.2L751.0 468.5L751.0 478.0L750.8 479.0L749.8 480.2L746.5 481.0L745.2 482.2L745.0 483.0L745.0 486.2L745.2 486.5L745.2 519.2L744.5 521.8L742.8 523.2L737.5 524.0L735.2 523.2L731.0 523.5L730.0 523.2L727.8 521.0L726.8 520.5L724.2 520.8L722.5 520.5L721.8 519.8L721.2 518.2L721.0 511.2L720.0 509.0L718.8 508.2L716.0 508.0L714.0 507.2L712.5 505.5L712.2 504.5L712.5 501.0L712.0 498.0L710.8 495.5L708.5 493.0L708.0 491.2L708.0 478.5L707.2 476.5L704.0 474.2L701.8 474.2L700.2 474.8L698.5 474.5L697.2 473.0L696.5 468.0L695.0 466.8L690.8 466.2L688.8 464.2L688.8 451.5L688.2 448.8L687.0 445.8L684.2 443.2L682.2 442.8L678.8 440.8L675.5 440.8L674.5 440.0L673.8 436.8L673.8 431.8L672.2 430.8L670.5 430.8L668.8 432.2L666.2 432.5L664.0 430.5L663.5 429.2L663.5 426.2L663.0 424.2L662.2 423.0L659.0 419.8L658.5 415.0L655.0 413.2L654.2 411.5L653.2 406.5L652.8 405.5L651.0 404.2L644.0 402.8L641.0 401.5L639.8 400.2L639.2 396.0L638.2 393.5L636.8 392.2L635.2 391.8L634.0 390.5L633.8 388.8L633.0 387.0L631.0 385.0L628.5 384.8L627.2 385.2L626.5 386.0L626.2 386.8L626.2 396.2L625.5 401.2L623.5 402.2L622.2 402.0L621.5 401.2L621.5 399.2L620.8 396.0L621.0 390.0L620.5 388.8L615.5 386.0L613.2 385.5L612.2 384.5L612.0 383.8L611.8 379.8L611.0 378.0L608.0 377.5L606.5 375.8L606.0 374.0L606.0 354.8L604.2 351.0L604.0 349.8L602.0 349.0L600.5 349.5L597.2 352.5L596.0 355.5L593.5 357.8L592.8 359.8L592.8 370.2L592.2 373.0L591.5 374.5L590.2 375.8L587.0 376.2L583.2 376.0L582.0 377.0L581.5 388.5L579.0 390.8L575.5 391.0L574.2 392.2L574.2 406.2L573.2 408.2L571.8 409.2L568.8 410.2L563.8 409.2L561.8 409.2L559.8 410.8L559.0 413.2L558.8 419.0L557.2 420.8L554.8 422.8L553.8 424.8L553.5 439.0L553.0 440.8L551.2 444.0L551.0 446.0L550.0 448.5L549.0 449.5L547.5 449.5L544.5 447.5L542.5 446.8L541.5 447.5L541.0 448.5L540.8 452.8L540.2 454.0L539.2 455.0L537.8 455.8L532.5 455.5L531.2 456.5L530.8 458.0L530.8 463.8L530.5 464.5L527.2 467.2L526.2 469.0L526.0 477.0L525.5 478.5L524.2 479.8L522.0 480.8L521.0 480.5L520.2 479.5L520.0 477.5L519.2 475.8L517.8 474.2L516.8 473.8L513.0 473.8L510.0 474.2L507.8 476.5L507.2 481.8L506.2 482.8L504.0 482.8L502.5 483.5L501.0 486.8L499.8 488.0L495.5 488.2L493.5 489.8L492.8 491.5L492.5 495.2L491.8 498.0L491.8 509.5L491.2 510.5L489.8 512.0L488.2 512.2L486.2 511.2L483.5 507.8L482.2 506.8L480.8 506.8L477.5 507.8L475.0 507.0L473.5 504.8L472.2 501.2L470.8 499.8L465.8 498.8L462.8 500.5L461.2 500.5L458.8 498.2L455.8 497.5L454.8 496.5L454.0 495.0L454.0 488.5L453.5 486.2L453.0 485.2L448.5 483.0L447.5 482.8L446.2 483.0L444.0 484.5L441.8 484.8L440.5 485.2L439.8 486.5L439.8 490.0L438.8 492.2L438.0 493.0L436.5 492.8L435.5 488.5L435.2 480.0L434.5 476.8L434.5 467.2L434.2 466.5L433.2 465.5L432.0 465.0L429.8 464.8L427.8 463.5L426.5 463.2L425.5 462.0L425.2 461.0L425.2 448.5L425.0 447.8L421.8 444.8L421.0 442.8L420.8 424.8L420.2 423.2L418.2 421.0L414.0 418.0L412.8 417.5L410.2 417.8L408.5 418.5L406.5 420.2L406.0 421.5L406.0 446.8L405.2 450.0L404.0 451.0L400.5 451.2L397.5 453.0L395.0 452.8L391.8 451.0L390.0 451.0L388.5 451.5L387.2 453.0L387.5 471.5L386.8 474.2L384.2 476.5L383.0 478.8L382.8 486.8L382.2 489.0L381.5 489.8L380.5 490.0L376.5 488.5L373.5 488.0L372.8 487.2L372.2 486.0L372.2 472.8L371.8 471.8L369.2 470.5L368.5 469.8L368.0 468.5L368.0 465.8L367.8 465.5L367.8 434.0L367.2 432.5L365.8 431.0L363.8 430.2L362.2 428.2L362.0 427.0L362.2 412.8L361.2 412.0L359.8 412.0L358.5 411.5L357.5 409.8L357.5 384.5L357.0 383.2L355.5 381.8L354.5 379.5L353.2 378.5L351.0 378.8L349.8 380.2L348.5 383.5L348.2 391.2L346.8 393.2L345.2 393.2L344.2 392.5L343.5 391.0L343.8 382.8L343.2 381.8L342.5 381.2L340.2 380.5L339.5 379.8L339.0 378.0L339.0 357.0L338.2 355.2L337.5 354.8L335.8 354.8L330.8 356.2L329.8 357.2L329.0 359.0L328.8 363.5L325.2 369.0L325.2 404.8L324.5 406.8L323.8 407.5L321.2 408.5L320.5 408.2L319.5 406.8L319.5 397.5L319.2 396.8L315.8 393.8L315.0 392.5L314.8 391.2L314.8 350.5L314.2 349.5L313.5 349.0L311.0 348.8L308.8 347.2L307.5 347.0L306.2 348.8L305.8 351.0L305.8 380.2L305.0 382.5L303.2 383.8L300.5 383.8L299.2 384.2L294.8 389.8L294.2 394.2L293.8 395.0L292.8 395.5L291.8 395.2L290.5 393.8L290.2 391.0L289.5 389.0L287.0 387.0L286.2 385.5L286.0 383.5L286.0 345.0L285.5 343.8L284.8 343.0L282.2 342.2L278.0 342.5L276.8 343.8L276.5 345.0L277.0 347.5L277.0 408.5L276.5 410.8L276.5 412.8L275.8 413.8L274.5 413.8L271.5 411.2L269.0 411.2L267.5 412.5L267.2 413.2L267.2 415.8L267.5 416.0L267.5 466.8L267.0 468.0L265.0 470.0L264.2 471.5L264.0 477.2L263.2 480.0L262.0 481.0L260.2 481.0L257.0 479.0L255.0 478.5L254.0 477.5L253.5 476.0L253.5 254.5L252.8 253.0L251.2 252.2L247.0 252.0L245.0 251.2L244.2 250.5L243.5 248.5L243.2 244.0L242.8 243.0L239.5 240.2L238.8 238.2L238.8 179.0L237.8 176.8L236.8 176.2L235.2 176.2L234.2 176.8L233.2 179.0L233.2 847.8Z" fill="#ff0000" fill-rule="evenodd"/>
<!-- legend -->
<rect x="372.6" y="71.7" width="975.1" height="197.6" fill="#fff" stroke="#505050" stroke-width="2.2"/>
<path d="M411.3 123.7H593.5" stroke="#0000ff" stroke-width="10.5" stroke-dasharray="26.7 9.3 29.7 9.3 29.7 9.3 29.7 9.3 29.7 9.3" fill="none"/>
<path d="M411.3 213.8H602.2" stroke="#ff0000" stroke-width="10.5" fill="none"/>
<!-- legend labels -->
<text x="620.2" y="145.2" font-size="63" textLength="387.6" lengthAdjust="spacingAndGlyphs">Drift-corrected</text>
<text x="1027.8" y="145.2" font-size="63" textLength="289.2" lengthAdjust="spacingAndGlyphs">SINS/CNS</text>
<text x="620.2" y="234.3" font-size="63" textLength="264.1" lengthAdjust="spacingAndGlyphs">Proposed</text>
<text x="902.5" y="234.3" font-size="63" textLength="289.2" lengthAdjust="spacingAndGlyphs">SINS/CNS</text>
<!-- y tick labels -->
<text x="215.5" y="54.8" font-size="65" text-anchor="end" textLength="87.6" lengthAdjust="spacingAndGlyphs">0.5</text>
<text x="215.5" y="490.9" font-size="65" text-anchor="end" textLength="35.05" lengthAdjust="spacingAndGlyphs">0</text>
<text x="215.5" y="926.4" font-size="65" text-anchor="end" textLength="108.56" lengthAdjust="spacingAndGlyphs">-0.5</text>
<!-- x tick labels -->
<text x="235.8" y="978.6" font-size="65" text-anchor="middle" textLength="35.05" lengthAdjust="spacingAndGlyphs">0</text>
<path d="M524.6 934.2L519.6 934.2C517.4 939 512.4 943.6 506.9 946.2L506.9 952C511.4 950.4 515.6 947.6 518 944.9L518 978.3L524.6 978.3Z" fill="#000"/>
<text x="803.9" y="978.6" font-size="65" text-anchor="middle" textLength="35.05" lengthAdjust="spacingAndGlyphs">2</text>
<text x="1086.0" y="978.6" font-size="65" text-anchor="middle" textLength="35.05" lengthAdjust="spacingAndGlyphs">3</text>
<text x="1373.7" y="978.6" font-size="65" text-anchor="middle" textLength="35.05" lengthAdjust="spacingAndGlyphs">4</text>
<!-- x axis label -->
<text x="772.6" y="1057.6" font-size="70" text-anchor="middle" textLength="141.0" lengthAdjust="spacingAndGlyphs" stroke="#000" stroke-width="0.6">time</text>
<text x="932.6" y="1057.6" font-size="70" text-anchor="middle" textLength="84.5" lengthAdjust="spacingAndGlyphs" stroke="#000" stroke-width="0.6">(h)</text>
<!-- y axis label -->
<text transform="translate(63.1 828.0) rotate(-90)" font-size="70" text-anchor="middle" textLength="304.0" lengthAdjust="spacingAndGlyphs" stroke="#000" stroke-width="0.6">Northerly</text>
<text transform="translate(63.1 529.9) rotate(-90)" font-size="70" text-anchor="middle" textLength="260.0" lengthAdjust="spacingAndGlyphs" stroke="#000" stroke-width="0.6">position</text>
<text transform="translate(63.1 306.95) rotate(-90)" font-size="70" text-anchor="middle" textLength="157.5" lengthAdjust="spacingAndGlyphs" stroke="#000" stroke-width="0.6">error</text>
<text transform="translate(63.1 111.1) rotate(-90)" font-size="70" text-anchor="middle" textLength="143.0" lengthAdjust="spacingAndGlyphs" stroke="#000" stroke-width="0.6">(km)</text>
<!-- slashes of "/(h)" and "/(km)" drawn as shapes (wider slant than font glyph) -->
<path d="M857.9 1066.5L864.9 1066.5L887.1 1007.5L880.3 1007.5Z" fill="#000"/>
<path d="M13 184.2L13 191.2L71.3 214.3L71.3 208.5Z" fill="#000"/>
</svg>
</body></html>
